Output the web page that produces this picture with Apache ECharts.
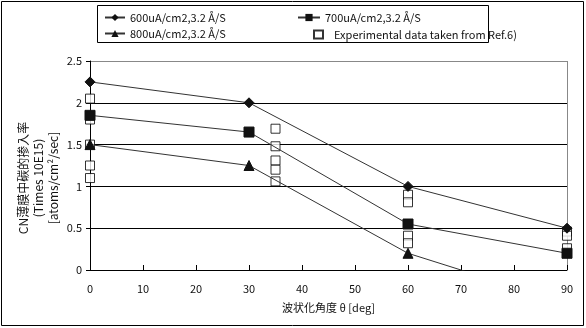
<!DOCTYPE html>
<html>
<head>
<meta charset="utf-8">
<script src="https://cdn.jsdelivr.net/npm/echarts@6/dist/echarts.min.js"></script>
<style>
  html, body { margin: 0; padding: 0; background: #fff; }
  #chart { width: 586px; height: 328px; }
</style>
</head>
<body>
<div id="chart"></div>
<script>
// Incidence angle (deg) for the simulated curves
const angles = [0, 30, 60, 90];
// Simulated incorporation rate, three current densities
const rate600 = [2.25, 2.0, 1.0, 0.5];
const rate700 = [1.85, 1.65, 0.55, 0.2];
const rate800 = [1.5, 1.25, 0.2, -0.4];
// Measured points (angle, rate)
const expAngles = [0, 0, 0, 0, 0, 35, 35, 35, 35, 35, 60, 60, 60, 60, 90, 90, 90];
const expRates  = [2.05, 1.8, 1.5, 1.25, 1.1, 1.69, 1.48, 1.31, 1.2, 1.06, 0.9, 0.81, 0.41, 0.32, 0.46, 0.41, 0.26];
// Series names
const name600 = '600uA/cm2,3.2 Å/S';
const name700 = '700uA/cm2,3.2 Å/S';
const name800 = '800uA/cm2,3.2 Å/S';
const nameExp = 'Experimental data taken from Ref.6)';
// Axis ticks
const xTicks = [0, 10, 20, 30, 40, 50, 60, 70, 80, 90];
const yTicks = [0, 0.5, 1, 1.5, 2, 2.5];

const FONT = '"Noto Sans CJK JP", "Noto Sans", sans-serif';
const pair = (xs, ys) => xs.map((x, i) => [x, ys[i]]);

const chart = echarts.init(document.getElementById('chart'), null, { renderer: 'canvas' });

const lineSeries = (name, data, symbol, size) => ({
  name, type: 'line', data: pair(angles, data), symbol, symbolSize: size,
  clip: true, z: 3,
  lineStyle: { color: '#333', width: 1 },
  itemStyle: { color: '#111', borderColor: '#111' }
});

const legendText = { fontFamily: FONT, fontSize: 11, color: '#111' };

chart.setOption({
  animation: false,
  backgroundColor: '#fff',
  textStyle: { fontFamily: FONT },
  grid: { left: 90, right: 19, top: 61, bottom: 58, show: false },
  legend: [
    { data: [name600, name800], left: 99, top: 7, orient: 'vertical', itemWidth: 20, itemHeight: 9,
      itemGap: 5, textStyle: legendText, selectedMode: false },
    { data: [name700], left: 292, top: 7, orient: 'vertical', itemWidth: 22, itemHeight: 9,
      textStyle: legendText, selectedMode: false },
    { data: [nameExp], left: 308, top: 24, orient: 'vertical', itemWidth: 9, itemHeight: 8,
      textStyle: Object.assign({ padding: [0, 0, 0, 6] }, legendText), selectedMode: false }
  ],
  xAxis: {
    type: 'value', min: xTicks[0], max: xTicks[xTicks.length - 1], interval: 10,
    name: '波状化角度 θ [deg]', nameLocation: 'middle', nameGap: 32,
    nameTextStyle: { fontFamily: FONT, fontSize: 11, color: '#111' },
    axisLine: { show: true, lineStyle: { color: '#000', width: 1 } },
    axisTick: { show: true, inside: true, length: 5, lineStyle: { color: '#000' } },
    axisLabel: { fontFamily: FONT, fontSize: 11, color: '#111', margin: 13 },
    splitLine: { show: false }
  },
  yAxis: {
    type: 'value', min: yTicks[0], max: yTicks[yTicks.length - 1], interval: 0.5,
    axisLine: { show: true, lineStyle: { color: '#000', width: 1 } },
    axisTick: { show: true, inside: false, length: 4, lineStyle: { color: '#000' } },
    axisLabel: { fontFamily: FONT, fontSize: 11, color: '#111', margin: 8 },
    splitLine: { show: true, lineStyle: { color: ['#000', '#000', '#000', '#000', '#000', '#888'], width: 1 } }
  },
  graphic: [
    // outer frame
    { type: 'rect', shape: { x: 1.5, y: 1.5, width: 582, height: 324 },
      style: { fill: null, stroke: '#000', lineWidth: 1 }, z: 0 },
    // legend box
    { type: 'rect', shape: { x: 97.5, y: 5.5, width: 391, height: 37 },
      style: { fill: null, stroke: '#000', lineWidth: 1 }, z: 0 },
    // right edge of plot area
    { type: 'line', shape: { x1: 567.5, y1: 61, x2: 567.5, y2: 270 },
      style: { stroke: '#888', lineWidth: 1 }, z: 0 },
    // y-axis title
    { type: 'text', rotation: Math.PI / 2, x: 38, y: 178,
      style: { text: 'CN薄膜中碳的掺入率\n(Times 10E15)\n[atoms/cm²/sec]', align: 'center', verticalAlign: 'middle',
        fontFamily: FONT, fontSize: 12, lineHeight: 15, fill: '#111' } }
  ],
  series: [
    { name: nameExp, type: 'scatter', data: pair(expAngles, expRates), symbol: 'rect', symbolSize: 9, z: 2,
      itemStyle: { color: '#fff', borderColor: '#000', borderWidth: 1 } },
    lineSeries(name600, rate600, 'diamond', 10),
    lineSeries(name700, rate700, 'rect', 10),
    lineSeries(name800, rate800, 'triangle', 10)
  ]
});
</script>
</body>
</html>
